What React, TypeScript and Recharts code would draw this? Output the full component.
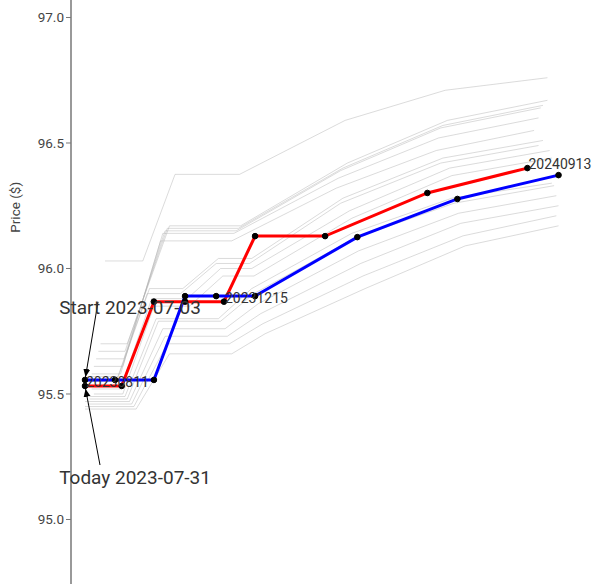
import { LineChart, Line, XAxis, YAxis, ReferenceDot, LabelList } from "recharts";

const FONT = "Roboto, 'Noto Sans', sans-serif";

// x = days after 2023-08-11 (contract date), y = price
const redDays = [0, 33, 62, 90, 125, 153, 216, 308, 398];
const redPrices = [95.532, 95.532, 95.868, 95.868, 95.868, 96.129, 96.129, 96.301, 96.4];
const redTags = ["20230811", "", "", "", "20231215", "", "", "", "20240913"];

const blueDays = [0, 27, 62, 90, 118, 153, 245, 335, 426];
const bluePrices = [95.556, 95.556, 95.556, 95.89, 95.89, 95.89, 96.125, 96.277, 96.372];

// curves from the days in between (day, price)
const grayCurves: [number, number][][] = [
  [[18, 96.03], [52, 96.03], [81, 96.375], [139, 96.375], [234, 96.59], [324, 96.71], [416, 96.76]],
  [[14, 95.7], [38, 95.7], [76, 96.17], [140, 96.17], [236, 96.42], [326, 96.59], [416, 96.67]],
  [[12, 95.67], [36, 95.67], [74, 96.16], [138, 96.16], [232, 96.4], [322, 96.57], [412, 96.65]],
  [[10, 95.64], [35, 95.64], [72, 96.15], [136, 96.15], [230, 96.39], [320, 96.56], [410, 96.64]],
  [[8, 95.61], [34, 95.61], [70, 96.14], [134, 96.14], [228, 96.36], [318, 96.52], [408, 96.6]],
  [[6, 95.58], [32, 95.58], [68, 96.11], [132, 96.11], [226, 96.32], [316, 96.47], [404, 96.55]],
  [[4, 95.57], [30, 95.57], [58, 95.92], [88, 95.92], [120, 96.04], [150, 96.04], [232, 96.28], [322, 96.44], [412, 96.51]],
  [[2, 95.55], [28, 95.55], [56, 95.9], [86, 95.9], [118, 96.02], [148, 96.02], [230, 96.26], [320, 96.42], [408, 96.49]],
  [[6, 95.52], [32, 95.52], [60, 95.88], [92, 95.88], [122, 96.0], [150, 96.0], [238, 96.23], [328, 96.4], [418, 96.47]],
  [[8, 95.5], [34, 95.5], [62, 95.85], [94, 95.85], [124, 95.97], [152, 95.97], [240, 96.2], [330, 96.37], [420, 96.44]],
  [[2, 95.49], [36, 95.49], [64, 95.8], [120, 95.8], [150, 95.92], [240, 96.14], [330, 96.28], [420, 96.34]],
  [[4, 95.48], [38, 95.48], [66, 95.79], [122, 95.79], [152, 95.9], [242, 96.12], [332, 96.26], [422, 96.33]],
  [[0, 95.47], [40, 95.47], [70, 95.76], [126, 95.76], [156, 95.86], [246, 96.07], [336, 96.22], [424, 96.29]],
  [[2, 95.46], [42, 95.46], [72, 95.73], [128, 95.73], [158, 95.82], [248, 96.02], [338, 96.18], [426, 96.25]],
  [[0, 95.45], [44, 95.45], [74, 95.7], [130, 95.7], [160, 95.78], [250, 95.97], [340, 96.13], [424, 96.21]],
  [[0, 95.44], [46, 95.44], [76, 95.66], [132, 95.66], [162, 95.74], [252, 95.92], [342, 96.09], [426, 96.17]],
];

const yTicks = [95.0, 95.5, 96.0, 96.5, 97.0];

// annotations: text centre and arrow tail (day, price)
const startText = "Start 2023-07-03";
const startTextAt = [40.5, 95.847];
const startTail = [11.7, 95.867];
const todayText = "Today 2023-07-31";
const todayTextAt = [45, 95.169];
const todayTail = [13.5, 95.217];

const toPoints = (days: number[], prices: number[]) => days.map((d, i) => ({ d, v: prices[i] }));

const redData = toPoints(redDays, redPrices);
const blueData = toPoints(blueDays, bluePrices);
const tagData = redData.map((p, i) => ({ ...p, tag: redTags[i] })).filter((p) => p.tag);
const grayData = grayCurves.map((c) => c.map(([d, v]) => ({ d, v })));
const startArrow = [{ d: startTail[0], v: startTail[1] }, blueData[0]];
const todayArrow = [{ d: todayTail[0], v: todayTail[1] }, redData[0]];

const dotStyle = { r: 2.8, fill: "#000", stroke: "#000", strokeWidth: 1 };

const renderTag = (p: any) => (
  <text x={p.x + 1} y={p.y + 1} fontSize={14} fill="#333" fontFamily={FONT}>
    {p.value}
  </text>
);

const YLabel = (p: any) => {
  const vb = p.viewBox;
  return (
    <text
      transform={`translate(${vb.x + 15},${vb.y + vb.height * 0.355}) rotate(-90)`}
      textAnchor="middle"
      dominantBaseline="central"
      fontSize={13.5}
      fill="#444"
      fontFamily={FONT}
    >
      Price ($)
    </text>
  );
};

const App = () => {
  return (
    <div style={{ position: "absolute", left: 0, top: 0 }}>
      <svg width={0} height={0} style={{ position: "absolute" }}>
        <defs>
          <marker id="arrowhead" markerWidth="10" markerHeight="10" refX="11" refY="3.5" orient="auto" markerUnits="userSpaceOnUse">
            <path d="M0,0 L8,3.5 L0,7 Z" fill="#000" />
          </marker>
        </defs>
      </svg>
      <LineChart width={595} height={584} margin={{ top: 0, right: 0, bottom: 0, left: 0 }}>
        <XAxis type="number" dataKey="d" domain={[-12.6, 458.8]} hide allowDataOverflow />
        <YAxis
          type="number"
          dataKey="v"
          domain={[94.743, 97.0697]}
          ticks={yTicks}
          tickFormatter={(v: number) => v.toFixed(1)}
          width={71}
          allowDataOverflow
          tickSize={5}
          tickLine={{ stroke: "#777" }}
          axisLine={{ stroke: "#777", strokeWidth: 1.5 }}
          tick={{ fill: "#444", fontSize: 13.5, fontFamily: FONT }}
          label={{ content: YLabel }}
        />
        {grayData.map((c, i) => (
          <Line
            key={"g" + i}
            data={c}
            dataKey="v"
            type="linear"
            stroke="#b0b0b0"
            strokeOpacity={0.45}
            strokeWidth={1}
            dot={false}
            activeDot={false}
            isAnimationActive={false}
          />
        ))}
        <Line data={redData} dataKey="v" type="linear" stroke="#ff0000" strokeWidth={3} dot={dotStyle} activeDot={false} isAnimationActive={false} />
        <Line data={blueData} dataKey="v" type="linear" stroke="#0000ff" strokeWidth={3} dot={dotStyle} activeDot={false} isAnimationActive={false} />
        <Line data={startArrow} dataKey="v" type="linear" stroke="#000" strokeWidth={1} markerEnd="url(#arrowhead)" dot={false} activeDot={false} isAnimationActive={false} />
        <Line data={todayArrow} dataKey="v" type="linear" stroke="#000" strokeWidth={1} markerEnd="url(#arrowhead)" dot={false} activeDot={false} isAnimationActive={false} />
        <Line data={tagData} dataKey="v" stroke="none" dot={false} activeDot={false} isAnimationActive={false}>
          <LabelList dataKey="tag" content={renderTag} />
        </Line>
        <ReferenceDot
          x={startTextAt[0]}
          y={startTextAt[1]}
          r={0}
          fill="none"
          stroke="none"
          label={{ value: startText, position: "center", fontSize: 19, fill: "#333", fontFamily: FONT }}
        />
        <ReferenceDot
          x={todayTextAt[0]}
          y={todayTextAt[1]}
          r={0}
          fill="none"
          stroke="none"
          label={{ value: todayText, position: "center", fontSize: 19, fill: "#333", fontFamily: FONT }}
        />
      </LineChart>
    </div>
  );
};

export default App;
